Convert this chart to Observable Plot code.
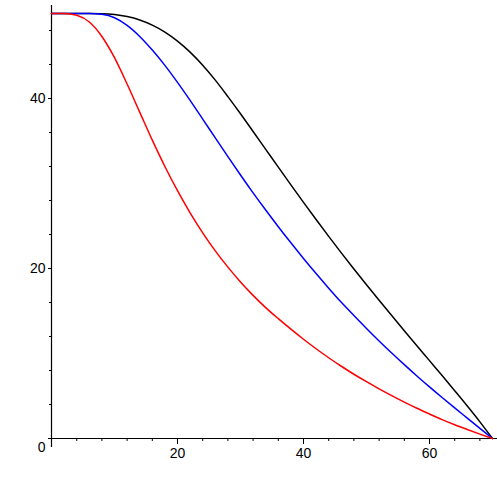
<!DOCTYPE html>
<html>
<head>
<meta charset="utf-8">
<script src="https://cdn.jsdelivr.net/npm/d3@7"></script>
<script src="https://cdn.jsdelivr.net/npm/@observablehq/plot@0.6"></script>
<style>
  html, body { margin: 0; padding: 0; background: #fff; }
  #chart svg { display: block; }
</style>
</head>
<body>
<div id="chart"></div>
<script>
// x sample positions shared by the three curves
const xGrid = [0, 2, 4, 6, 8, 10, 12, 14, 16, 18, 20, 22, 24, 26, 28, 30, 32, 34, 36, 38, 40,
               42, 44, 46, 48, 50, 52, 54, 56, 58, 60, 62, 64, 66, 68, 70];

const blackValues = [50, 50, 50, 50, 49.98, 49.88, 49.64, 49.24, 48.64, 47.82, 46.76, 45.46, 43.92, 42.16,
                     40.22, 38.2, 36.12, 34.02, 31.92, 29.84, 27.78, 25.76, 23.78, 21.84, 19.94, 18.08,
                     16.26, 14.46, 12.68, 10.92, 9.16, 7.4, 5.62, 3.82, 1.96, 0];

const blueValues = [50, 50, 50, 50, 49.9, 49.5, 48.6, 47.3, 45.7, 43.9, 41.9, 39.78, 37.58, 35.36, 33.16,
                    31.0, 28.9, 26.88, 24.92, 23.02, 21.18, 19.4, 17.68, 16.02, 14.47, 12.95, 11.48,
                    10.06, 8.69, 7.36, 6.07, 4.82, 3.6, 2.4, 1.2, 0];

const redValues = [50, 50, 49.8, 49.0, 47.3, 44.8, 41.7, 38.4, 35.1, 32.0, 29.15, 26.55, 24.2, 22.08, 20.16,
                   18.42, 16.84, 15.4, 14.1, 12.86, 11.68, 10.56, 9.5, 8.5, 7.56, 6.68, 5.84, 5.04, 4.28,
                   3.56, 2.88, 2.22, 1.62, 1.06, 0.52, 0];

const xMajorTicks = [20, 40, 60];
const xMinorTicks = [4, 8, 12, 16, 24, 28, 32, 36, 44, 48, 52, 56, 64, 68];
const yMajorTicks = [20, 40];
const yMinorTicks = [4, 8, 12, 16, 24, 28, 32, 36, 44, 48];
const yZeroTick = [0];

const series = [
  {name: "black", values: blackValues, color: "#000000"},
  {name: "blue", values: blueValues, color: "#0000c8"},
  {name: "red", values: redValues, color: "#d40000"}
];

const rows = series.flatMap(s => xGrid.map((x, i) => ({x, y: s.values[i], name: s.name})));

const font = "Liberation Sans, Arial, sans-serif";

const chart = Plot.plot({
  width: 497,
  height: 497,
  marginLeft: 51,
  marginRight: 5,
  marginTop: 13,
  marginBottom: 59,
  style: {background: "#fff", fontFamily: font, fontSize: "14px", color: "#000"},
  x: {domain: [0, 70]},
  y: {domain: [0, 50]},
  color: {domain: series.map(s => s.name), range: series.map(s => s.color)},
  marks: [
    Plot.axisX({ticks: xMajorTicks, tickSize: 6, tickPadding: 4, fontSize: 14, label: null, stroke: "#000"}),
    Plot.axisX({ticks: xMinorTicks, tickSize: 3, text: null, label: null, stroke: "#000"}),
    Plot.axisY({ticks: yMajorTicks, tickSize: 3, tickPadding: 3, fontSize: 14, label: null, stroke: "#000"}),
    Plot.axisY({ticks: yMinorTicks, tickSize: 2, text: null, label: null, stroke: "#000"}),
    Plot.axisY({ticks: yZeroTick, tickSize: 0, tickPadding: 6, dy: 9, fontSize: 14, label: null}),
    Plot.ruleX([0], {stroke: "#000", strokeWidth: 1.2, insetTop: -8, insetBottom: -9}),
    Plot.ruleY([0], {stroke: "#000", strokeWidth: 1.2, insetLeft: -3, insetRight: -5}),
    Plot.line(rows, {x: "x", y: "y", z: "name", stroke: "name", strokeWidth: 1.5, curve: "monotone-x"})
  ]
});

document.getElementById("chart").appendChild(chart);
</script>
</body>
</html>
